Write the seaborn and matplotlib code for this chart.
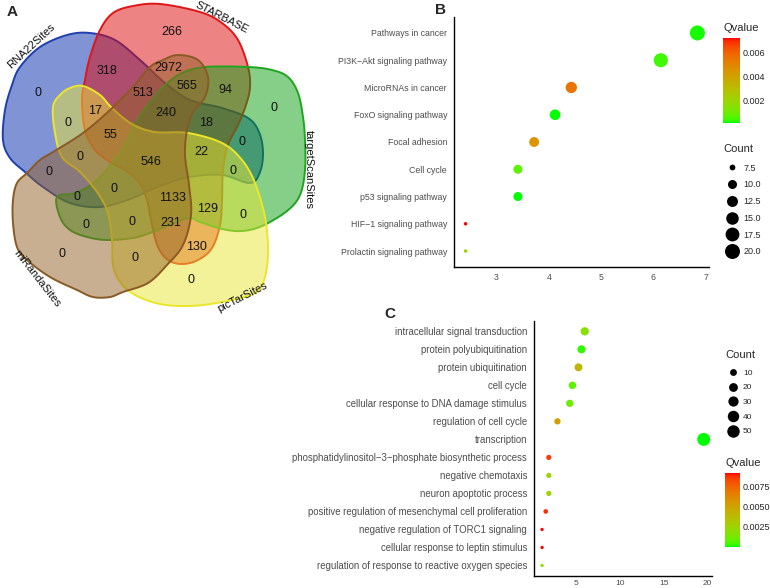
import numpy as np
import pandas as pd
import seaborn as sns
import matplotlib
matplotlib.use("Agg")
from matplotlib import pyplot as plt
from matplotlib.patches import Polygon
from matplotlib.lines import Line2D
from matplotlib.colors import LinearSegmentedColormap, Normalize, to_rgb
from matplotlib.cm import ScalarMappable

                    ## Data

venn_sets = ["RNA22Sites", "STARBASE", "targetScanSites", "picTarSites", "miRandaSites"]
venn_counts = [266, 318, 2972, 565, 94, 0, 513, 17, 240, 18, 0, 0, 55, 0, 0, 546,
               22, 0, 0, 0, 0, 1133, 129, 0, 0, 0, 231, 130, 0, 0, 0]

kegg_terms = ["Pathways in cancer", "PI3K\u2212Akt signaling pathway", "MicroRNAs in cancer",
              "FoxO signaling pathway", "Focal adhesion", "Cell cycle", "p53 signaling pathway",
              "HIF\u22121 signaling pathway", "Prolactin signaling pathway"]
kegg_ratio = [6.84, 6.14, 4.43, 4.12, 3.72, 3.41, 3.41, 2.41, 2.41]
kegg_count = [20, 18, 13, 12, 11, 10, 10, 7, 7]
kegg_q = [0.0002, 0.0004, 0.0055, 0.0001, 0.0045, 0.0007, 0.0001, 0.0072, 0.0020]

go_terms = ["intracellular signal transduction", "protein polyubiquitination",
            "protein ubiquitination", "cell cycle", "cellular response to DNA damage stimulus",
            "regulation of cell cycle", "transcription",
            "phosphatidylinositol\u22123\u2212phosphate biosynthetic process",
            "negative chemotaxis", "neuron apoptotic process",
            "positive regulation of mesenchymal cell proliferation",
            "negative regulation of TORC1 signaling", "cellular response to leptin stimulus",
            "regulation of response to reactive oxygen species"]
go_ratio = [5.95, 5.57, 5.23, 4.54, 4.23, 2.82, 19.58, 1.83, 1.83, 1.83, 1.48, 1.06, 1.06, 1.06]
go_count = [17, 16, 15, 13, 12, 8, 56, 5, 5, 5, 4, 3, 3, 3]
go_q = [0.0018, 0.0003, 0.0040, 0.0008, 0.0011, 0.0053, 0.00002, 0.0085, 0.0025, 0.0025,
        0.0087, 0.0091, 0.0091, 0.0018]

                    ## Layout (pixels of the 770x588 picture)

W, H = 770, 588
def box(l, t, r, b):
    return [l / W, 1 - b / H, (r - l) / W, (b - t) / H]

# venn outlines traced as control points, panel A pixel coords
shapes = {
    "RNA22Sites": [(3, 140), (5, 110), (12, 85), (20, 67), (40, 47), (67, 35), (90, 33), (115, 40),
                   (140, 60), (165, 83), (190, 100), (222, 108), (248, 118), (259, 132), (263, 152),
                   (260, 172), (250, 183), (222, 175), (190, 177), (160, 186), (130, 199), (100, 207),
                   (70, 203), (43, 187), (25, 172), (10, 158)],
    "STARBASE": [(100, 30), (113, 13), (133, 6), (160, 4), (200, 12), (222, 23), (238, 40), (248, 67),
                 (250, 87), (246, 105), (238, 125), (228, 145), (223, 170), (222, 200), (220, 225),
                 (212, 248), (198, 260), (182, 264), (168, 260), (158, 247), (152, 225), (147, 200),
                 (140, 184), (128, 172), (110, 162), (95, 150), (85, 130), (82, 100), (85, 80), (90, 57)],
    "targetScanSites": [(57, 197), (75, 193), (95, 182), (112, 163), (125, 145), (133, 127), (142, 113),
                        (152, 100), (165, 85), (182, 73), (205, 67), (248, 67), (272, 70), (288, 77),
                        (298, 93), (303, 117), (305, 140), (305, 170), (300, 195), (287, 211), (262, 226),
                        (242, 231), (222, 229), (200, 222), (188, 218), (165, 227), (150, 233),
                        (133, 238), (107, 240), (87, 237), (70, 230), (60, 217)],
    "picTarSites": [(53, 107), (60, 95), (70, 88), (83, 86), (100, 95), (112, 108), (132, 124),
                    (155, 132), (188, 133), (222, 143), (242, 160), (255, 183), (265, 217), (268, 250),
                    (265, 277), (255, 293), (222, 302), (190, 306), (160, 304), (135, 295), (120, 282),
                    (113, 265), (112, 240), (108, 213), (97, 192), (80, 172), (62, 157), (55, 133)],
    "miRandaSites": [(53, 152), (83, 133), (110, 110), (133, 87), (150, 67), (163, 60), (178, 55),
                     (198, 60), (208, 77), (205, 97), (193, 112), (187, 130), (185, 155), (189, 185),
                     (191, 215), (183, 245), (167, 265), (148, 283), (123, 292), (110, 297), (93, 297),
                     (77, 290), (50, 277), (27, 260), (17, 247), (13, 223), (13, 200), (17, 183),
                     (27, 173), (40, 160)],
}
fills = {"RNA22Sites": "#0029AD", "STARBASE": "#DD0909", "targetScanSites": "#0DA115",
         "picTarSites": "#EBE735", "miRandaSites": "#936125"}
edges = {"RNA22Sites": "#1f3fae", "STARBASE": "#e01515", "targetScanSites": "#1fa51f",
         "picTarSites": "#ece62a", "miRandaSites": "#8a5a24"}
set_label_pos = {"RNA22Sites": (31, 46, 43), "STARBASE": (222, 18, -27),
                 "targetScanSites": (309, 170, -90), "picTarSites": (242, 297, 27),
                 "miRandaSites": (37, 279, -52)}
count_pos = [(172, 32), (107, 71), (168, 68), (187, 86), (225, 90), (38, 93), (143, 93), (95, 111),
             (166, 113), (206, 123), (274, 108), (68, 123), (110, 135), (242, 142), (80, 157),
             (151, 162), (201, 152), (49, 172), (233, 171), (77, 197), (114, 189), (173, 198),
             (208, 209), (243, 215), (86, 225), (132, 222), (171, 223), (197, 247), (62, 254),
             (135, 258), (191, 280)]


def closed_spline(pts, n=16):
    # Catmull-Rom through the traced points
    p = np.array(pts, float)
    m = len(p)
    t = np.linspace(0, 1, n, endpoint=False)[:, None]
    out = []
    for i in range(m):
        p0, p1, p2, p3 = p[i - 1], p[i], p[(i + 1) % m], p[(i + 2) % m]
        out.append(0.5 * (2 * p1 + (-p0 + p2) * t + (2 * p0 - 5 * p1 + 4 * p2 - p3) * t ** 2
                          + (-p0 + 3 * p1 - 3 * p2 + p3) * t ** 3))
    return np.vstack(out)


# ggplot style green -> red gradient (Lab interpolation)
M = np.array([[0.4124, 0.3576, 0.1805], [0.2126, 0.7152, 0.0722], [0.0193, 0.1192, 0.9505]])
WP = np.array([0.95047, 1.0, 1.08883])
def to_lab(c):
    c = np.asarray(c, float)
    lin = np.where(c > 0.04045, ((c + 0.055) / 1.055) ** 2.4, c / 12.92)
    xyz = M @ lin / WP
    f = np.where(xyz > 0.008856, np.cbrt(xyz), 7.787 * xyz + 16 / 116)
    return np.array([116 * f[1] - 16, 500 * (f[0] - f[1]), 200 * (f[1] - f[2])])
def from_lab(lab):
    L, a, b = lab
    fy = (L + 16) / 116
    f = np.array([fy + a / 500, fy, fy - b / 200])
    xyz = np.where(f ** 3 > 0.008856, f ** 3, (f - 16 / 116) / 7.787) * WP
    lin = np.clip(np.linalg.inv(M) @ xyz, 0, 1)
    return np.clip(np.where(lin > 0.0031308, 1.055 * lin ** (1 / 2.4) - 0.055, 12.92 * lin), 0, 1)
lo, hi = to_lab(to_rgb("#00FF00")), to_lab(to_rgb("#FF0000"))
qcmap = LinearSegmentedColormap.from_list(
    "gr", [from_lab(lo + (hi - lo) * s) for s in np.linspace(0, 1, 32)])


def gg_sizes(counts, a, b):
    # ggplot scale_size: diameter ~ 1 + 5*sqrt(rescaled value), turned into matplotlib areas
    lo_, hi_ = min(counts), max(counts)
    out = {}
    for v in sorted(set(counts)):
        d_px = a * (1 + 5 * np.sqrt((v - lo_) / (hi_ - lo_))) + b
        out[v] = (d_px / (100 / 72)) ** 2
    return out

def leg_handles(breaks, counts, a, b):
    lo_, hi_ = min(counts), max(counts)
    hs = []
    for v in breaks:
        d_px = a * (1 + 5 * np.sqrt(max(v - lo_, 0) / (hi_ - lo_))) + b
        hs.append(Line2D([], [], marker="o", linestyle="", color="black",
                         markersize=d_px / (100 / 72), markeredgewidth=0))
    return hs


sns.set_style("white")
plt.rcParams["font.family"] = ["Liberation Sans", "DejaVu Sans"]
fig = plt.figure(figsize=(7.7, 5.88), dpi=100)

                    ## A: venn

axA = fig.add_axes(box(0, 0, 322, 312))
axA.set_xlim(0, 322)
axA.set_ylim(312, 0)
axA.axis("off")
for name in venn_sets:
    r, g, b = to_rgb(fills[name])
    axA.add_patch(Polygon(closed_spline(shapes[name]), closed=True, facecolor=(r, g, b, 0.5),
                          edgecolor=edges[name], linewidth=1.4))
for name in venn_sets:
    x, y, rot = set_label_pos[name]
    axA.text(x, y, name, rotation=rot, ha="center", va="center", fontsize=8, color="#111111")
for (x, y), c in zip(count_pos, venn_counts):
    axA.text(x, y, str(c), ha="center", va="center", fontsize=9, color="#111111")

                    ## B and C: enrichment dot plots

def dotplot(rect, terms, ratio, counts, q, a, b, ticks, fs):
    ax = fig.add_axes(box(*rect))
    df = pd.DataFrame({"Term": terms, "Ratio": ratio, "Count": counts, "Qvalue": q})
    sns.scatterplot(data=df, x="Ratio", y="Term", hue="Qvalue", size="Count", palette=qcmap,
                    hue_norm=(min(q), max(q)), sizes=gg_sizes(counts, a, b), legend=False,
                    edgecolor="none", linewidth=0, ax=ax)
    span = max(ratio) - min(ratio)
    ax.set_xlim(min(ratio) - 0.05 * span, max(ratio) + 0.05 * span)
    ax.set_ylim(len(terms) - 0.4, -0.6)
    ax.set_xticks(ticks)
    ax.set_xlabel("")
    ax.set_ylabel("")
    for s in ["top", "right"]:
        ax.spines[s].set_visible(False)
    for s in ["left", "bottom"]:
        ax.spines[s].set_color("black")
        ax.spines[s].set_linewidth(1.0)
    ax.tick_params(axis="both", length=3, width=0.7, color="#333333", labelcolor="#4d4d4d",
                   labelsize=fs, pad=2)
    ax.tick_params(axis="x", labelsize=6.3, pad=0.8)
    return ax

axB = dotplot((454, 16.6, 709, 267.4), kegg_terms, kegg_ratio, kegg_count, kegg_q,
              2.3, 1.2, [3, 4, 5, 6, 7], 6.3)
axC = dotplot((534, 320.5, 711.8, 576.3), go_terms, go_ratio, go_count, go_q,
              1.94, 1.36, [5, 10, 15, 20], 6.9)
axC.tick_params(axis="x", length=2.5, pad=0.3, labelsize=6)

def qbar(rect, q, ticks, fmt):
    cax = fig.add_axes(box(*rect))
    sm = ScalarMappable(norm=Normalize(min(q), max(q)), cmap=qcmap)
    cb = fig.colorbar(sm, cax=cax, ticks=ticks)
    cb.outline.set_visible(False)
    cb.ax.set_yticklabels([fmt % t for t in ticks])
    cb.ax.tick_params(direction="in", color="white", length=3, width=0.8, left=True, right=True,
                      labelsize=6.5, labelcolor="#222222", pad=2)

qbar((723, 38, 740, 123), kegg_q, [0.002, 0.004, 0.006], "%.3f")
qbar((725, 473, 740, 547), go_q, [0.0025, 0.0050, 0.0075], "%.4f")

fig.text(723 / W, 1 - 28 / H, "Qvalue", fontsize=8, va="center", ha="left")
fig.text(723 / W, 1 - 149 / H, "Count", fontsize=8, va="center", ha="left")
fig.text(725 / W, 1 - 355 / H, "Count", fontsize=8, va="center", ha="left")
fig.text(725 / W, 1 - 463 / H, "Qvalue", fontsize=8, va="center", ha="left")

b_breaks = [7.5, 10.0, 12.5, 15.0, 17.5, 20.0]
fig.legend(leg_handles(b_breaks, kegg_count, 2.3, 1.2), ["%.1f" % v for v in b_breaks],
           loc="upper left", bbox_to_anchor=(727 / W, 1 - 163.5 / H), frameon=False, fontsize=6.5,
           labelspacing=0.86, handletextpad=0.6, handlelength=1.2, borderpad=0, borderaxespad=0)
c_breaks = [10, 20, 30, 40, 50]
fig.legend(leg_handles(c_breaks, go_count, 1.94, 1.36), [str(v) for v in c_breaks],
           loc="upper left", bbox_to_anchor=(728 / W, 1 - 369 / H), frameon=False, fontsize=6,
           labelspacing=0.82, handletextpad=0.6, handlelength=1.2, borderpad=0, borderaxespad=0)

fig.text(12 / W, 1 - 12 / H, "A", fontsize=11, fontweight="bold", ha="center", va="center")
fig.text(440 / W, 1 - 10 / H, "B", fontsize=11, fontweight="bold", ha="center", va="center")
fig.text(390 / W, 1 - 314 / H, "C", fontsize=11, fontweight="bold", ha="center", va="center")

fig.savefig("out.png", dpi=100)
